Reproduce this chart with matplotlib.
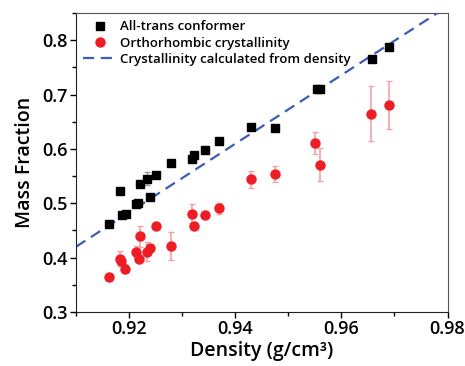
import matplotlib.pyplot as plt
from matplotlib.ticker import MultipleLocator

plt.rcParams["font.family"] = ["Open Sans", "DejaVu Sans"]

# all-trans conformer (black squares)
trans_density = [0.9162, 0.9182, 0.9186, 0.9194, 0.9213, 0.9216, 0.9221, 0.9233,
                 0.9240, 0.9250, 0.9279, 0.9318, 0.9323, 0.9344, 0.9370, 0.9430,
                 0.9475, 0.9554, 0.9560, 0.9657, 0.9690]
trans_frac = [0.461, 0.522, 0.478, 0.481, 0.498, 0.501, 0.535, 0.545,
              0.511, 0.552, 0.575, 0.581, 0.589, 0.598, 0.614, 0.641,
              0.638, 0.711, 0.711, 0.766, 0.787]
trans_err = [0.0, 0.0, 0.0, 0.0, 0.0, 0.0, 0.0, 0.012,
             0.0, 0.0, 0.0, 0.0, 0.0, 0.0, 0.0, 0.0,
             0.0, 0.0, 0.0, 0.0, 0.0]

# orthorhombic crystallinity (red circles)
ortho_density = [0.9162, 0.9182, 0.9185, 0.9193, 0.9214, 0.9218, 0.9221, 0.9233,
                 0.9239, 0.9250, 0.9279, 0.9318, 0.9323, 0.9344, 0.9370, 0.9430,
                 0.9475, 0.9550, 0.9560, 0.9656, 0.9690]
ortho_frac = [0.364, 0.398, 0.394, 0.380, 0.411, 0.398, 0.439, 0.411,
              0.417, 0.458, 0.422, 0.481, 0.458, 0.478, 0.491, 0.544,
              0.554, 0.611, 0.571, 0.665, 0.681]
ortho_err = [0.0, 0.014, 0.0, 0.008, 0.010, 0.0, 0.020, 0.017,
             0.0, 0.0, 0.026, 0.018, 0.0, 0.0, 0.010, 0.015,
             0.015, 0.020, 0.030, 0.050, 0.044]

# crystallinity calculated from density
calc_density = [0.910, 0.980]
calc_frac = [0.420, 0.862]

fig = plt.figure(figsize=(4.65, 3.66), dpi=100)
ax = fig.add_axes([0.1634, 0.1475, 0.799, 0.817])

ax.errorbar(trans_density, trans_frac, yerr=trans_err, fmt="none",
            ecolor="#9a9a9a", elinewidth=1, capsize=2.5, zorder=2)
ax.plot(trans_density, trans_frac, "s", color="black", markersize=5.5,
        label="All-trans conformer", zorder=3)
ax.errorbar(ortho_density, ortho_frac, yerr=ortho_err, fmt="none",
            ecolor="#f4a3a8", elinewidth=1.2, capsize=2.5, zorder=2)
ax.plot(ortho_density, ortho_frac, "o", color="#ee1c25", markersize=6.5,
        label="Orthorhombic crystallinity", zorder=3)
ax.plot(calc_density, calc_frac, "--", color="#3b5cb8", linewidth=1.6,
        dashes=(5, 3), label="Crystallinity calculated from density", zorder=1)

ax.set_xlim(0.91, 0.98)
ax.set_ylim(0.3, 0.85)
ax.xaxis.set_minor_locator(MultipleLocator(0.01))
ax.yaxis.set_minor_locator(MultipleLocator(0.05))
ax.set_xticks([0.92, 0.94, 0.96, 0.98])
ax.set_yticks([0.3, 0.4, 0.5, 0.6, 0.7, 0.8])
ax.set_xticklabels(["0.92", "0.94", "0.96", "0.98"])
ax.set_yticklabels(["0.3", "0.4", "0.5", "0.6", "0.7", "0.8"])
ax.tick_params(which="major", direction="out", length=4.5, width=1,
               labelsize=13, pad=1.5, top=False, right=False)
ax.tick_params(which="minor", direction="out", length=3, width=1,
               top=False, right=False)
for lbl in ax.get_xticklabels() + ax.get_yticklabels():
    lbl.set_fontweight("semibold")
for side in ["top", "right"]:
    ax.spines[side].set_color("#555555")
for side in ["left", "bottom"]:
    ax.spines[side].set_color("#222222")

ax.set_xlabel("Density (g/cm³)", fontsize=14, fontweight="semibold", labelpad=2)
ax.set_ylabel("Mass Fraction", fontsize=14, fontweight="semibold", labelpad=5)

leg = ax.legend(loc="upper left", frameon=False, fontsize=9.5, handlelength=2.5,
                handletextpad=0.25, borderpad=0.55, borderaxespad=0.0,
                labelspacing=0.25)
for t in leg.get_texts():
    t.set_fontweight("semibold")

fig.savefig("out.png", dpi=100)
